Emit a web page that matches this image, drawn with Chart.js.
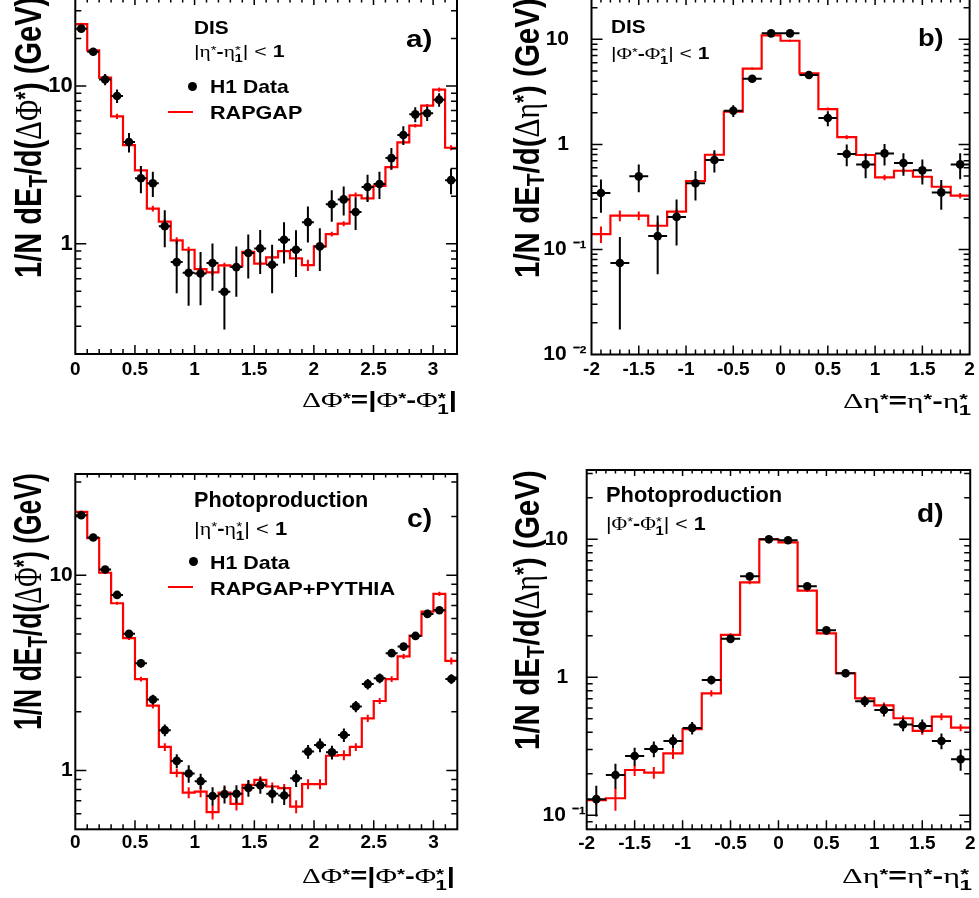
<!DOCTYPE html>
<html><head><meta charset="utf-8">
<script src="https://cdn.jsdelivr.net/npm/chart.js@4.4.1/dist/chart.umd.min.js"></script>
<style>
html,body{margin:0;padding:0;background:#fff}
body{position:relative;width:979px;height:898px;overflow:hidden;font-family:"Liberation Sans",Arial,Helvetica,sans-serif}
canvas{position:absolute}
.t{position:absolute;white-space:nowrap;line-height:1;font-weight:bold;color:#000;transform-origin:0 0}
.t.n{font-weight:normal}
.g{font-family:"Liberation Serif","Times New Roman",serif;font-weight:normal}
.t sup,.t sub{line-height:0;font-size:0.7em}
.t sup{vertical-align:0.28em}
.t sub{vertical-align:-0.22em}
.st sub{margin-left:-0.42em;vertical-align:-0.45em}
.dot{position:absolute;border-radius:50%;background:#000}
.rl{position:absolute;background:#f00}
</style></head><body>
<canvas id="cA" width="489" height="470" style="left:0;top:-20px"></canvas>
<canvas id="cB" width="490" height="470" style="left:489px;top:-20px"></canvas>
<canvas id="cC" width="489" height="448" style="left:0;top:450px"></canvas>
<canvas id="cD" width="490" height="448" style="left:489px;top:450px"></canvas>
<script>
// ---------- categories (bin centres) ----------
const phiCenters = [0.05,0.15,0.25,0.35,0.45,0.55,0.65,0.75,0.85,0.95,1.05,1.15,1.25,1.35,1.45,1.55,
                    1.65,1.75,1.85,1.95,2.05,2.15,2.25,2.35,2.45,2.55,2.65,2.75,2.85,2.95,3.05,3.15];
const etaCenters = [-1.9,-1.7,-1.5,-1.3,-1.1,-0.9,-0.7,-0.5,-0.3,-0.1,0.1,0.3,0.5,0.7,0.9,1.1,1.3,1.5,1.7,1.9];

// ---------- tick labels ----------
const phiTickLabels = ['0','0.5','1','1.5','2','2.5','3'];
const etaTickLabels = ['-2','-1.5','-1','-0.5','0','0.5','1','1.5','2'];
const yTickValsPhi = [1, 10];
const yTickTextPhi = ['1', '10'];
const yTickValsEtaB = [0.01, 0.1, 1, 10];
const yTickTextEtaB = ['10 \u207B\u00B2', '10 \u207B\u00B9', '1   ', '10   '];
const yTickValsEtaD = [0.1, 1, 10];
const yTickTextEtaD = ['10 \u207B\u00B9', '1   ', '10   '];

// ---------- a) DIS, dE_T/dDeltaPhi ----------
const disPhiData = [23.1,16.5,11.0,8.64,4.41,2.60,2.42,1.29,0.765,0.655,0.648,0.754,0.496,0.711,0.873,0.934,
                    0.736,1.06,0.916,1.37,0.962,1.78,1.91,1.59,2.29,2.39,3.49,4.89,6.61,6.71,8.19,2.53];
const disPhiErr  = [1.2,0.8,0.9,0.85,0.62,0.51,0.44,0.34,0.28,0.25,0.24,0.25,0.21,0.25,0.27,0.29,
                    0.25,0.31,0.30,0.35,0.29,0.40,0.40,0.37,0.45,0.47,0.55,0.66,0.71,0.71,0.80,0.47];
const disPhiMC   = [24.7,16.8,11.3,6.42,4.22,2.92,1.67,1.38,1.05,0.916,0.691,0.658,0.729,0.718,0.889,0.747,
                    0.819,0.898,0.807,0.732,0.962,1.15,1.34,2.03,1.94,2.33,3.06,4.39,5.60,7.50,9.48,4.06];
const disPhiMCErr= [0.5,0.3,0.25,0.25,0.15,0.1,0.07,0.05,0.05,0.04,0.03,0.03,0.03,0.03,0.03,0.03,
                    0.03,0.03,0.04,0.06,0.04,0.04,0.05,0.08,0.08,0.08,0.1,0.12,0.15,0.2,0.3,0.15];

// ---------- b) DIS, dE_T/dDeltaEta ----------
const disEtaData = [0.344,0.0743,0.496,0.134,0.204,0.426,0.710,2.09,4.22,11.4,11.4,4.57,1.78,0.809,0.645,0.821,0.664,0.566,0.349,0.645];
const disEtaErr  = [0.12,0.057,0.146,0.076,0.095,0.133,0.17,0.27,0.3,0.4,0.4,0.3,0.29,0.19,0.17,0.19,0.16,0.15,0.11,0.18];
const disEtaMC   = [0.140,0.210,0.210,0.168,0.229,0.448,0.797,2.05,5.25,10.9,9.69,4.74,2.17,1.17,0.792,0.485,0.561,0.492,0.395,0.325];
const disEtaMCErr= [0.025,0.025,0.02,0.015,0.015,0.02,0.04,0.06,0.15,0.2,0.2,0.12,0.07,0.05,0.03,0.03,0.02,0.03,0.02,0.02];

// ---------- c) Photoproduction, dE_T/dDeltaPhi ----------
const phoPhiData = [20.3,15.6,10.7,7.93,5.01,3.54,2.31,1.61,1.12,0.965,0.882,0.741,0.757,0.760,0.813,0.841,
                    0.760,0.745,0.914,1.25,1.35,1.24,1.52,2.13,2.77,2.97,3.99,4.31,4.89,6.34,6.62,2.94];
const phoPhiErr  = [0.4,0.3,0.25,0.2,0.18,0.18,0.13,0.11,0.09,0.1,0.08,0.08,0.08,0.08,0.08,0.08,
                    0.08,0.08,0.09,0.1,0.11,0.1,0.12,0.14,0.17,0.17,0.17,0.18,0.15,0.15,0.2,0.17];
const phoPhiMC   = [21.1,15.5,10.3,7.19,4.76,2.94,2.15,1.32,0.973,0.771,0.780,0.612,0.771,0.675,0.845,0.896,
                    0.828,0.812,0.654,0.851,0.851,1.19,1.20,1.32,1.85,2.27,2.94,3.84,4.91,6.51,8.02,3.64];
const phoPhiMCErr= [0.3,0.2,0.15,0.12,0.1,0.08,0.07,0.06,0.05,0.05,0.05,0.05,0.05,0.05,0.04,0.04,
                    0.04,0.04,0.05,0.05,0.05,0.04,0.07,0.06,0.08,0.08,0.1,0.12,0.12,0.15,0.2,0.15];

// ---------- d) Photoproduction, dE_T/dDeltaEta ----------
const phoEtaData = [0.131,0.196,0.269,0.303,0.346,0.430,0.957,1.90,5.39,10.0,9.84,4.57,2.19,1.07,0.670,0.580,0.456,0.444,0.346,0.255];
const phoEtaErr  = [0.033,0.04,0.04,0.04,0.04,0.045,0.07,0.1,0.2,0.3,0.3,0.2,0.1,0.07,0.06,0.06,0.05,0.05,0.045,0.045];
const phoEtaMC   = [0.129,0.133,0.213,0.204,0.281,0.422,0.766,2.03,4.88,10.0,9.51,4.25,2.08,1.07,0.704,0.627,0.505,0.409,0.519,0.432];
const phoEtaMCErr= [0.01,0.025,0.02,0.02,0.025,0.02,0.04,0.06,0.15,0.2,0.2,0.1,0.05,0.03,0.03,0.03,0.025,0.025,0.03,0.025];

// ---------- helpers ----------
const FONT = '"Liberation Sans", Arial, Helvetica, sans-serif';
function stepPoints(centers, vals, hw) {
  const pts = centers.map((c, i) => ({x: c - hw, y: vals[i]}));
  pts.push({x: centers[centers.length - 1] + hw, y: vals[vals.length - 1]});
  return pts;
}
function logTicks(min, max) {
  const out = [];
  for (let e = Math.floor(Math.log10(min)); e <= Math.ceil(Math.log10(max)); e++)
    for (let m = 1; m <= 9; m++) {
      const v = m * Math.pow(10, e);
      if (v >= min * 0.9999 && v <= max * 1.0001) out.push({value: v, major: m === 1});
    }
  return out;
}
function linTicks(min, max, labels) {
  const out = [];
  const lab = labels.map(Number);
  for (let k = Math.round(min * 10); k <= Math.round(max * 10); k++) {
    const v = k / 10;
    out.push({value: v, major: lab.some(l => Math.abs(l - v) < 1e-6)});
  }
  return out;
}

// draws ROOT-style frame and inward ticks on all four sides
const rootFrame = {
  id: 'rootFrame',
  afterDatasetsDraw(chart) {
    const {ctx, chartArea: a} = chart;
    const xs = chart.scales.x, ys = chart.scales.y;
    ctx.save();
    ctx.strokeStyle = '#000';
    ctx.lineWidth = 1.5;
    ctx.beginPath();
    xs.ticks.forEach(t => {
      const px = xs.getPixelForValue(t.value);
      if (px < a.left + 1 || px > a.right - 1) return;
      const lb = t.major ? 9 : 5, lt = t.major ? 6 : 3.5;
      ctx.moveTo(px, a.bottom); ctx.lineTo(px, a.bottom - lb);
      ctx.moveTo(px, a.top); ctx.lineTo(px, a.top + lt);
    });
    ys.ticks.forEach(t => {
      const py = ys.getPixelForValue(t.value);
      if (py < a.top + 1 || py > a.bottom - 1) return;
      const l = t.major ? 11 : 6;
      ctx.moveTo(a.left, py); ctx.lineTo(a.left + l, py);
      ctx.moveTo(a.right, py); ctx.lineTo(a.right - l, py);
    });
    ctx.stroke();
    ctx.lineWidth = 2;
    ctx.strokeRect(a.left, a.top, a.right - a.left, a.bottom - a.top);
    ctx.restore();
  }
};
// error bars for datasets carrying errY / errX
const errorBars = {
  id: 'errorBars',
  beforeDatasetDraw(chart, args) {
    const ds = chart.data.datasets[args.index];
    if (!ds.errY) return;
    const {ctx, chartArea: a} = chart;
    const xs = chart.scales.x, ys = chart.scales.y;
    ctx.save();
    ctx.beginPath(); ctx.rect(a.left, a.top, a.right - a.left, a.bottom - a.top); ctx.clip();
    ctx.strokeStyle = ds.errColor; ctx.lineWidth = ds.errWidth;
    ctx.beginPath();
    ds.data.forEach((p, i) => {
      const e = ds.errY[i];
      const px = xs.getPixelForValue(p.x);
      const lo = p.y - e > 0 ? ys.getPixelForValue(p.y - e) : a.bottom;
      const hi = ys.getPixelForValue(p.y + e);
      ctx.moveTo(px, lo); ctx.lineTo(px, hi);
      if (ds.errX) {
        const py = ys.getPixelForValue(p.y);
        ctx.moveTo(xs.getPixelForValue(p.x - ds.errX), py);
        ctx.lineTo(xs.getPixelForValue(p.x + ds.errX), py);
      }
    });
    ctx.stroke();
    ctx.restore();
  }
};

function makeChart(P) {
  const xTicks = linTicks(P.xMin, P.xMax, P.xLabels);
  const yTicks = logTicks(P.yMin, P.yMax);
  return new Chart(document.getElementById(P.id), {
    type: 'scatter',
    data: {
      datasets: [
        {label: 'H1 Data', type: 'scatter', data: P.centers.map((c, i) => ({x: c, y: P.data[i]})),
         pointRadius: 4.3, pointBackgroundColor: '#000', pointBorderColor: '#000', pointBorderWidth: 0,
         showLine: false, errY: P.err, errX: P.hw, errColor: '#000', errWidth: 2},
        {label: P.mcLabel + ' uncertainty', type: 'scatter', data: P.centers.map((c, i) => ({x: c, y: P.mc[i]})),
         pointRadius: 0, showLine: false, errY: P.mcErr, errX: 0, errColor: '#ff0000', errWidth: 2},
        {label: P.mcLabel, type: 'line', data: stepPoints(P.centers, P.mc, P.hw), stepped: 'before',
         borderColor: '#ff0000', borderWidth: 2.2, pointRadius: 0, fill: false, tension: 0}
      ]
    },
    options: {
      responsive: false, animation: false, events: [],
      layout: {autoPadding: false, padding: {left: 0, top: P.area.t, right: P.w - P.area.r, bottom: 0}},
      plugins: {legend: {display: false}, tooltip: {enabled: false}},
      scales: {
        x: {
          type: 'linear', min: P.xMin, max: P.xMax, bounds: 'data',
          afterFit(s) { s.height = P.h - P.area.b; },
          afterBuildTicks(s) { s.ticks = xTicks.map(t => ({...t})); },
          grid: {display: false, drawTicks: false}, border: {display: false},
          ticks: {autoSkip: false, maxRotation: 0, padding: P.xPad, color: '#000',
                  font: {family: FONT, size: P.xFont, weight: 'bold'},
                  callback(v) { const i = P.xLabels.findIndex(l => Math.abs(Number(l) - v) < 1e-6); return i < 0 ? '' : P.xLabels[i]; }}
        },
        y: {
          type: 'logarithmic', min: P.yMin, max: P.yMax, bounds: 'data',
          afterFit(s) { s.width = P.area.l; },
          afterBuildTicks(s) { s.ticks = yTicks.map(t => ({...t})); },
          grid: {display: false, drawTicks: false}, border: {display: false},
          ticks: {autoSkip: false, padding: P.yPad, color: '#000',
                  font: {family: FONT, size: P.yFont, weight: 'bold'},
                  callback(v) { const i = P.yVals.findIndex(l => Math.abs(Math.log10(l) - Math.log10(v)) < 1e-6); return i < 0 ? '' : P.yText[i]; }}
        }
      }
    },
    plugins: [errorBars, rootFrame]
  });
}

const panels = [
  {id: 'cA', w: 489, h: 470, area: {l: 75.3, t: 19, r: 457, b: 374}, xMin: 0, xMax: 3.2, xLabels: phiTickLabels,
   yMin: 0.2, yMax: 35.6, yVals: yTickValsPhi, yText: yTickTextPhi, yFont: 22, xFont: 19, xPad: 4.6, yPad: 2.5,
   centers: phiCenters, data: disPhiData, err: disPhiErr, mc: disPhiMC, mcErr: disPhiMCErr, hw: 0.05, mcLabel: 'RAPGAP'},
  {id: 'cB', w: 490, h: 470, area: {l: 102.5, t: 19, r: 484, b: 374.5}, xMin: -2, xMax: 2, xLabels: etaTickLabels,
   yMin: 0.01, yMax: 24.2, yVals: yTickValsEtaB, yText: yTickTextEtaB, yFont: 21, xFont: 19, xPad: 4.1, yPad: 5,
   centers: etaCenters, data: disEtaData, err: disEtaErr, mc: disEtaMC, mcErr: disEtaMCErr, hw: 0.1, mcLabel: 'RAPGAP'},
  {id: 'cC', w: 489, h: 448, area: {l: 75.3, t: 24, r: 457.3, b: 379.3}, xMin: 0, xMax: 3.2, xLabels: phiTickLabels,
   yMin: 0.5, yMax: 33, yVals: yTickValsPhi, yText: yTickTextPhi, yFont: 21, xFont: 19, xPad: 2.5, yPad: 2.5,
   centers: phiCenters, data: phoPhiData, err: phoPhiErr, mc: phoPhiMC, mcErr: phoPhiMCErr, hw: 0.05, mcLabel: 'RAPGAP+PYTHIA'},
  {id: 'cD', w: 490, h: 448, area: {l: 97.7, t: 20, r: 484, b: 379.3}, xMin: -2, xMax: 2, xLabels: etaTickLabels,
   yMin: 0.0792, yMax: 31.8, yVals: yTickValsEtaD, yText: yTickTextEtaD, yFont: 21, xFont: 19, xPad: 3.5, yPad: 1,
   centers: etaCenters, data: phoEtaData, err: phoEtaErr, mc: phoEtaMC, mcErr: phoEtaMCErr, hw: 0.1, mcLabel: 'RAPGAP+PYTHIA'}
];
const charts = panels.map(makeChart);

// ---------- text overlays (real text) ----------
const yTitlePhi = '1/N dE<sub>T</sub>/d(<span class="g">\u0394\u03A6</span><sup>*</sup>) (GeV)';
const yTitleEta = '1/N dE<sub>T</sub>/d(<span class="g">\u0394\u03B7</span><sup>*</sup>) (GeV)';
const xTitlePhi = '<span class="g">\u0394\u03A6</span><sup>*</sup>=|<span class="g">\u03A6</span><sup>*</sup>-<span class="g">\u03A6</span><span class="st"><sup>*</sup><sub>1</sub></span>|';
const xTitleEta = '<span class="g">\u0394\u03B7</span><sup>*</sup>=<span class="g">\u03B7</span><sup>*</sup>-<span class="g">\u03B7</span><span class="st"><sup>*</sup><sub>1</sub></span>';
const cutEta = '|<span class="g">\u03B7</span><sup>*</sup><b>-</b><span class="g">\u03B7</span><span class="st"><sup>*</sup><sub><b>1</b></sub></span>| &lt; <b>1</b>';
const cutPhi = '|<span class="g">\u03A6</span><sup>*</sup><b>-</b><span class="g">\u03A6</span><span class="st"><sup>*</sup><sub><b>1</b></sub></span>| &lt; <b>1</b>';

const texts = [
  // panel a
  {html: yTitlePhi, rot: true, capLeft: 15, startY: 278, len: 281, size: 37},
  {html: xTitlePhi, left: 302, base: 408, width: 155, size: 22},
  {html: 'DIS', left: 194, base: 34, width: 35, size: 19},
  {html: cutEta, normal: true, left: 194, base: 58, width: 91, size: 16},
  {html: 'a)', left: 406, base: 47, width: 26, size: 24},
  // panel b
  {html: yTitleEta, rot: true, capLeft: 514, startY: 278, len: 280, size: 35},
  {html: xTitleEta, left: 843, base: 409, width: 128, size: 22},
  {html: 'DIS', left: 611, base: 33, width: 35, size: 19},
  {html: cutPhi, normal: true, left: 611, base: 60, width: 98, size: 16},
  {html: 'b)', left: 918, base: 46, width: 26, size: 24},
  // panel c
  {html: yTitlePhi, rot: true, capLeft: 13, startY: 730, len: 257, size: 39},
  {html: xTitlePhi, left: 302, base: 884, width: 153, size: 22},
  {html: 'Photoproduction', left: 194, base: 508, width: 174, size: 22},
  {html: cutEta, normal: true, left: 194, base: 535, width: 93, size: 18},
  {html: 'c)', left: 407, base: 527, width: 25, size: 26},
  // panel d
  {html: yTitleEta, rot: true, capLeft: 514, startY: 750, len: 280, size: 35},
  {html: xTitleEta, left: 842, base: 884, width: 130, size: 22},
  {html: 'Photoproduction', left: 606, base: 503, width: 176, size: 22},
  {html: cutPhi, normal: true, left: 606, base: 530, width: 100, size: 18},
  {html: 'd)', left: 917, base: 522, width: 27, size: 26}
];
// legends (texts taken from dataset labels)
const legends = [
  {chart: 0, dot: [192.5, 86], line: [168, 193, 111.7], t1: {left: 210, base: 93, width: 79}, t2: {left: 210, base: 119, width: 92}, size: 19},
  {chart: 2, dot: [193, 561], line: [168, 193, 587], t1: {left: 210, base: 569, width: 80}, t2: {left: 210, base: 595, width: 185}, size: 19}
];
legends.forEach(L => {
  const ds = charts[L.chart].data.datasets;
  const d = document.createElement('div'); d.className = 'dot';
  Object.assign(d.style, {left: (L.dot[0] - 4.5) + 'px', top: (L.dot[1] - 4.5) + 'px', width: '9px', height: '9px'});
  document.body.appendChild(d);
  const r = document.createElement('div'); r.className = 'rl';
  Object.assign(r.style, {left: L.line[0] + 'px', top: (L.line[2] - 1) + 'px', width: (L.line[1] - L.line[0]) + 'px', height: '2px'});
  document.body.appendChild(r);
  texts.push({html: ds[0].label, left: L.t1.left, base: L.t1.base, width: L.t1.width, size: L.size});
  texts.push({html: ds[2].label, left: L.t2.left, base: L.t2.base, width: L.t2.width, size: L.size});
});

const els = texts.map(o => {
  const el = document.createElement('div');
  el.className = 't' + (o.normal ? ' n' : '');
  el.innerHTML = o.html;
  el.style.fontSize = o.size + 'px';
  document.body.appendChild(el);
  return el;
});
function layoutTexts() {
  texts.forEach((o, i) => {
    const el = els[i];
    const nat = el.offsetWidth;
    if (o.rot) {
      const s = o.len / nat;
      el.style.left = (o.capLeft - 0.13 * o.size) + 'px';
      el.style.top = o.startY + 'px';
      el.style.transform = 'rotate(-90deg) scaleX(' + s + ')';
    } else {
      const s = o.width / nat;
      el.style.left = o.left + 'px';
      el.style.top = (o.base - 0.8465 * o.size) + 'px';
      el.style.transform = 'scaleX(' + s + ')';
    }
  });
}
layoutTexts();
if (document.fonts && document.fonts.ready) document.fonts.ready.then(layoutTexts);
</script>
</body></html>
